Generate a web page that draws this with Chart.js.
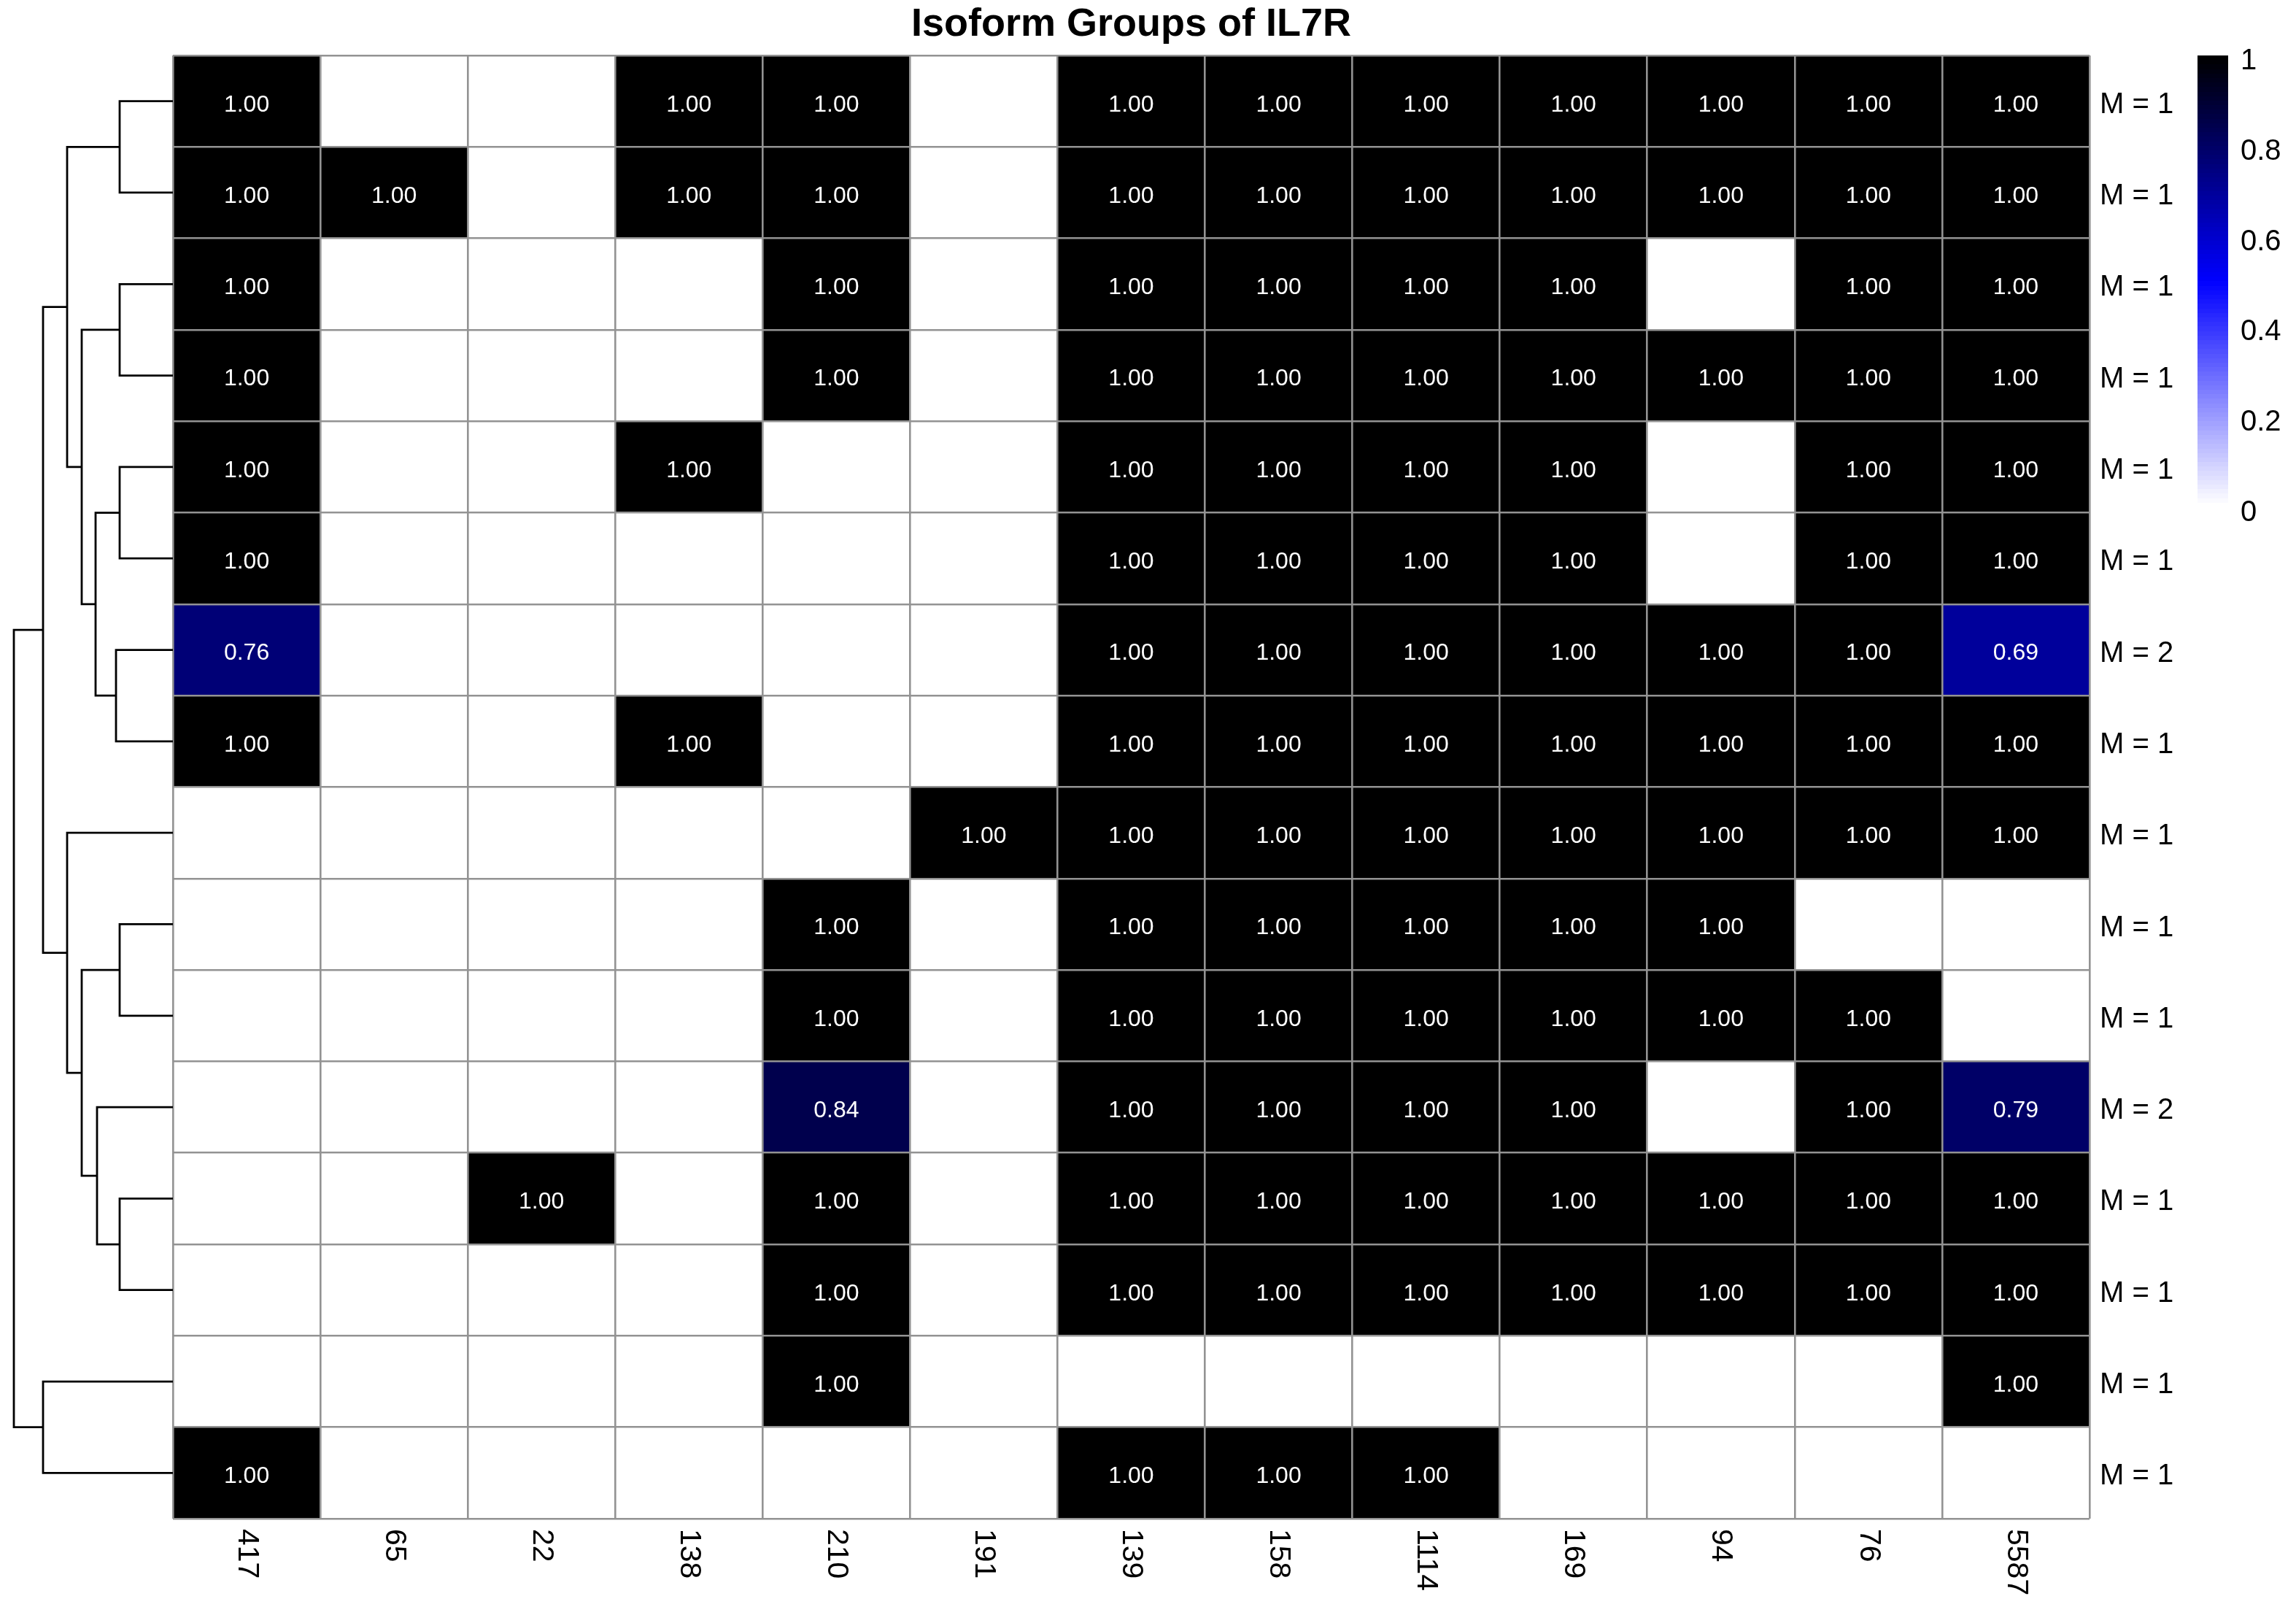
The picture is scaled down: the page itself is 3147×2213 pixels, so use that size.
<!DOCTYPE html>
<html>
<head>
<meta charset="utf-8">
<script src="https://cdn.jsdelivr.net/npm/chart.js@4.4.1/dist/chart.umd.min.js"></script>
<style>
html, body { margin: 0; padding: 0; background: #ffffff; }
#wrap { position: relative; width: 3147px; height: 2213px; overflow: hidden; }
#wrap canvas { position: absolute; left: 0; top: 0; }
</style>
</head>
<body>
<div id="wrap">
  <canvas id="heat" width="3147" height="2213"></canvas>
  <canvas id="dendro" width="3147" height="2213"></canvas>
  <canvas id="cbar" width="3147" height="2213"></canvas>
</div>
<script>
// ---------------- DATA ----------------
const chartTitle = 'Isoform Groups of IL7R';
const columns = ['417', '65', '22', '138', '210', '191', '139', '158', '1114', '169', '94', '76', '5587'];
const rowLabels = ['M = 1', 'M = 1', 'M = 1', 'M = 1', 'M = 1', 'M = 1', 'M = 2', 'M = 1',
                   'M = 1', 'M = 1', 'M = 1', 'M = 2', 'M = 1', 'M = 1', 'M = 1', 'M = 1'];

// one array per heatmap row (top to bottom), values per column
const row01 = [1, 0, 0, 1, 1, 0, 1, 1, 1, 1, 1, 1, 1];
const row02 = [1, 1, 0, 1, 1, 0, 1, 1, 1, 1, 1, 1, 1];
const row03 = [1, 0, 0, 0, 1, 0, 1, 1, 1, 1, 0, 1, 1];
const row04 = [1, 0, 0, 0, 1, 0, 1, 1, 1, 1, 1, 1, 1];
const row05 = [1, 0, 0, 1, 0, 0, 1, 1, 1, 1, 0, 1, 1];
const row06 = [1, 0, 0, 0, 0, 0, 1, 1, 1, 1, 0, 1, 1];
const row07 = [0.76, 0, 0, 0, 0, 0, 1, 1, 1, 1, 1, 1, 0.69];
const row08 = [1, 0, 0, 1, 0, 0, 1, 1, 1, 1, 1, 1, 1];
const row09 = [0, 0, 0, 0, 0, 1, 1, 1, 1, 1, 1, 1, 1];
const row10 = [0, 0, 0, 0, 1, 0, 1, 1, 1, 1, 1, 0, 0];
const row11 = [0, 0, 0, 0, 1, 0, 1, 1, 1, 1, 1, 1, 0];
const row12 = [0, 0, 0, 0, 0.84, 0, 1, 1, 1, 1, 0, 1, 0.79];
const row13 = [0, 0, 1, 0, 1, 0, 1, 1, 1, 1, 1, 1, 1];
const row14 = [0, 0, 0, 0, 1, 0, 1, 1, 1, 1, 1, 1, 1];
const row15 = [0, 0, 0, 0, 1, 0, 0, 0, 0, 0, 0, 0, 1];
const row16 = [1, 0, 0, 0, 0, 0, 1, 1, 1, 0, 0, 0, 0];
const matrix = [row01, row02, row03, row04, row05, row06, row07, row08,
                row09, row10, row11, row12, row13, row14, row15, row16];

// row dendrogram (hclust-style merges: negative = leaf row number, positive = earlier merge)
const mergeLeft   = [-1, -3, -5, -7, 3, 2, 1, -10, -13, -12, 8, -9, 7, -15, 13];
const mergeRight  = [-2, -4, -6, -8, 4, 5, 6, -11, -14, 9, 10, 11, 12, -16, 14];
const mergeHeight = [0.73, 0.73, 0.73, 0.78, 1.06, 1.25, 1.45, 0.73, 0.73, 1.04, 1.25, 1.45, 1.78, 1.78, 2.18];

// colour legend (palette ramp white -> blue -> black, 100 steps)
const legendBreaks = [0, 0.5, 1];
const legendColors = [[255, 255, 255], [0, 0, 255], [0, 0, 0]];
const legendTicks = [0, 0.2, 0.4, 0.6, 0.8, 1];
const paletteSize = 100;

// ---------------- HELPERS ----------------
const FONT = '"Liberation Sans", Arial, Helvetica, sans-serif';
const GRID = '#939393';

function rampAt(p) {
  let k = 0;
  while (k < legendBreaks.length - 2 && p > legendBreaks[k + 1]) k++;
  const t = Math.max(0, Math.min(1, (p - legendBreaks[k]) / (legendBreaks[k + 1] - legendBreaks[k])));
  const a = legendColors[k], b = legendColors[k + 1];
  return a.map((x, i) => Math.round(x + (b[i] - x) * t));
}
function colorFor(v) {
  const bin = Math.min(paletteSize - 1, Math.floor(v * paletteSize));
  const c = rampAt(bin / (paletteSize - 1));
  return `rgb(${c[0]},${c[1]},${c[2]})`;
}

Chart.defaults.animation = false;
Chart.defaults.font.family = FONT;

// ---------------- HEATMAP ----------------
const cellText = {
  id: 'cellText',
  afterDatasetsDraw(chart) {
    const ctx = chart.ctx;
    ctx.save();
    ctx.font = '32px ' + FONT;
    ctx.fillStyle = '#ffffff';
    ctx.textAlign = 'center';
    ctx.textBaseline = 'middle';
    chart.data.datasets.forEach((ds, di) => {
      const meta = chart.getDatasetMeta(di);
      meta.data.forEach((el, i) => {
        const v = ds.values[i];
        if (v > 0) ctx.fillText(v.toFixed(2), el.x, (el.y + el.base) / 2 + 5);
      });
    });
    ctx.restore();
  }
};

const colLabels = {
  id: 'colLabels',
  afterDraw(chart) {
    const xs = chart.scales.x;
    const ctx = chart.ctx;
    ctx.save();
    ctx.font = '41px ' + FONT;
    ctx.fillStyle = '#000000';
    ctx.textAlign = 'left';
    ctx.textBaseline = 'middle';
    columns.forEach((c, i) => {
      const x = xs.getPixelForTick(i);
      const y = chart.chartArea.bottom + 14;
      ctx.save();
      ctx.translate(x, y);
      ctx.rotate(Math.PI / 2);
      ctx.fillText(c, 0, 0);
      ctx.restore();
    });
    ctx.restore();
  }
};

const heatDatasets = matrix.map((vals, r) => ({
  label: rowLabels[r],
  data: vals.map(() => [r, r + 1]),
  values: vals,
  backgroundColor: vals.map(v => colorFor(v)),
  borderWidth: 0,
  grouped: false,
  barPercentage: 1,
  categoryPercentage: 1,
  xAxisID: 'x',
  yAxisID: 'y'
}));

new Chart(document.getElementById('heat'), {
  type: 'bar',
  data: { labels: columns, datasets: heatDatasets },
  options: {
    responsive: false,
    devicePixelRatio: 1,
    layout: { padding: { left: 237, right: 0, top: 0, bottom: 132 } },
    plugins: {
      legend: { display: false },
      tooltip: { enabled: false },
      title: {
        display: true,
        text: chartTitle,
        fullSize: false,
        color: '#000000',
        font: { family: FONT, size: 54, weight: 'bold', lineHeight: 1.2 },
        padding: { top: 2, bottom: 9.2 }
      }
    },
    scales: {
      x: {
        type: 'category',
        offset: true,
        grid: { offset: true, color: GRID, lineWidth: 2.6, drawTicks: false, z: 1 },
        border: { display: false },
        ticks: { display: false }
      },
      y: {
        type: 'linear',
        min: 0,
        max: 16,
        reverse: true,
        grid: { color: GRID, lineWidth: 2.6, drawTicks: false, z: 1 },
        border: { display: false },
        ticks: { display: false, stepSize: 1 }
      },
      yr: {
        type: 'category',
        position: 'right',
        labels: rowLabels,
        offset: true,
        grid: { display: false, drawTicks: false },
        border: { display: false },
        ticks: { color: '#000000', font: { family: FONT, size: 40 }, padding: 14, autoSkip: false, labelOffset: 5 },
        afterFit: s => { s.width = 283; }
      }
    }
  },
  plugins: [cellText, colLabels]
});

// ---------------- DENDROGRAM ----------------
const nodeY = [];
function childPos(c) {
  return c < 0 ? { y: -c - 1 + 0.5, h: 0 } : { y: nodeY[c - 1], h: mergeHeight[c - 1] };
}
const dendroDatasets = mergeLeft.map((l, k) => {
  const a = childPos(l), b = childPos(mergeRight[k]);
  const H = mergeHeight[k];
  nodeY[k] = (a.y + b.y) / 2;
  return {
    data: [{ x: a.h, y: a.y }, { x: H, y: a.y }, { x: H, y: b.y }, { x: b.h, y: b.y }],
    showLine: true,
    borderColor: '#000000',
    borderWidth: 2.8,
    pointRadius: 0,
    fill: false,
    tension: 0,
    clip: false
  };
});

new Chart(document.getElementById('dendro'), {
  type: 'scatter',
  data: { datasets: dendroDatasets },
  options: {
    responsive: false,
    devicePixelRatio: 1,
    layout: { padding: { left: 19, right: 3147 - 237, top: 76, bottom: 132 } },
    plugins: { legend: { display: false }, tooltip: { enabled: false } },
    scales: {
      x: { type: 'linear', min: 0, max: Math.max(...mergeHeight), reverse: true, display: false },
      y: { type: 'linear', min: 0, max: 16, reverse: true, display: false }
    }
  }
});

// ---------------- COLOUR BAR ----------------
new Chart(document.getElementById('cbar'), {
  type: 'bar',
  data: {
    labels: ['legend'],
    datasets: [{
      data: [1],
      borderWidth: 0,
      barPercentage: 1,
      categoryPercentage: 1,
      backgroundColor: (c) => {
        const area = c.chart.chartArea;
        if (!area) return '#000';
        const g = c.chart.ctx.createLinearGradient(0, area.bottom, 0, area.top);
        for (let i = 0; i < paletteSize; i++) {
          const col = colorFor((i + 0.5) / paletteSize);
          g.addColorStop(i / paletteSize, col);
          g.addColorStop((i + 1) / paletteSize, col);
        }
        return g;
      }
    }]
  },
  options: {
    responsive: false,
    devicePixelRatio: 1,
    layout: { padding: { left: 3012, right: 0, top: 76, bottom: 2213 - 695 } },
    plugins: { legend: { display: false }, tooltip: { enabled: false } },
    scales: {
      x: { type: 'category', display: false },
      y: {
        type: 'linear',
        min: 0,
        max: 1,
        position: 'right',
        grid: { display: false, drawTicks: false },
        border: { display: false },
        afterBuildTicks: s => { s.ticks = legendTicks.map(v => ({ value: v })); },
        ticks: {
          color: '#000000',
          font: { family: FONT, size: 40 },
          padding: 17,
          labelOffset: 8,
          callback: v => String(Math.round(v * 10) / 10)
        },
        afterFit: s => { s.width = 3147 - 3054; }
      }
    }
  }
});
</script>
</body>
</html>
